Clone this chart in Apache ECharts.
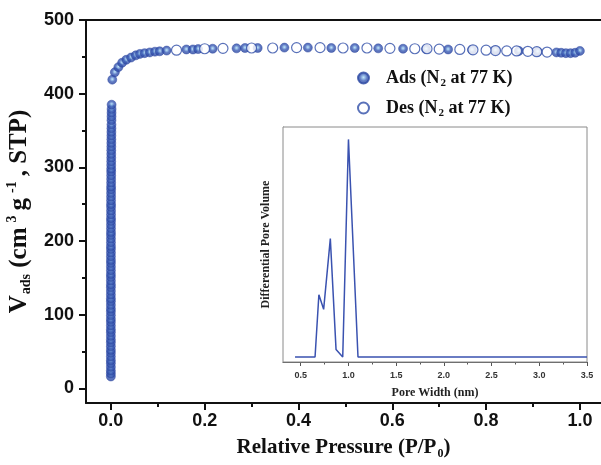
<!DOCTYPE html>
<html>
<head>
<meta charset="utf-8">
<script src="https://cdn.jsdelivr.net/npm/echarts@6/dist/echarts.min.js"></script>
<style>
  html, body { margin: 0; padding: 0; background: #fff; }
  #chart { width: 601px; height: 465px; }
</style>
</head>
<body>
<div id="chart"></div>
<script>
// N2 isotherm at 77 K, adsorption branch: micropore filling at very low P/P0
const lowP = [
  0.000001, 0.000002, 0.000003, 0.000004, 0.000005, 0.000006, 0.000007, 0.000008, 0.000009, 0.00001,
  0.000012, 0.000014, 0.000016, 0.000018, 0.00002, 0.000023, 0.000026, 0.000029, 0.000032, 0.000035,
  0.00004, 0.000045, 0.00005, 0.000055, 0.00006, 0.000066, 0.000072, 0.000078, 0.000085, 0.000092,
  0.0001, 0.00011, 0.00012, 0.00013, 0.00014, 0.00015, 0.00016, 0.00017, 0.00018, 0.00019,
  0.0002, 0.00022, 0.00024, 0.00026, 0.00028, 0.0003, 0.00032, 0.00034, 0.00036, 0.00038,
  0.0004, 0.00043, 0.00046, 0.00049, 0.00052, 0.00055, 0.00058, 0.00061, 0.00064, 0.00067,
  0.0007, 0.00074, 0.00078, 0.00082, 0.00086, 0.0009, 0.00095, 0.001, 0.00105, 0.0011,
  0.00116, 0.00122, 0.00128, 0.00134, 0.0014, 0.00147, 0.00154, 0.0016
];
const lowV = [
  16, 20, 24, 29, 34, 38, 43, 48, 52, 57,
  62, 66, 71, 76, 80, 85, 90, 94, 99, 104,
  108, 113, 118, 122, 127, 132, 137, 141, 146, 151,
  155, 160, 165, 170, 174, 179, 184, 189, 193, 198,
  203, 208, 212, 217, 222, 227, 231, 236, 241, 246,
  250, 255, 260, 265, 270, 274, 279, 284, 289, 294,
  298, 303, 308, 313, 318, 323, 328, 333, 338, 343,
  348, 353, 358, 364, 369, 374, 379, 385
];
// adsorption branch, knee and plateau
const adsP = [
  0.003, 0.0085, 0.016, 0.024, 0.033, 0.043, 0.053, 0.062, 0.072, 0.083, 0.094, 0.104, 0.119,
  0.161, 0.175, 0.186, 0.217, 0.268, 0.286, 0.313, 0.37, 0.42, 0.47, 0.52, 0.57, 0.623,
  0.672, 0.719, 0.77, 0.82, 0.87, 0.91, 0.95, 0.96, 0.97, 0.98, 0.99, 1.0
];
const adsV = [
  419, 429, 436, 442, 446, 449, 452, 454, 455, 456, 457, 457.5, 458.5,
  460, 460, 460.5, 461, 461.5, 462, 462, 462.5, 462.5, 462, 462, 461.5, 461,
  460.5, 460, 459.5, 459, 458, 457, 456, 455.5, 455, 455, 455.5, 458
];
// desorption branch
const desP = [
  0.93, 0.908, 0.889, 0.865, 0.844, 0.82, 0.8, 0.772, 0.744, 0.7, 0.674,
  0.648, 0.595, 0.546, 0.495, 0.446, 0.396, 0.345, 0.3, 0.239, 0.2, 0.14
];
const desV = [
  456.5, 457, 457.5, 458, 458, 458.5, 459, 459.5, 460, 460.5, 461,
  461, 461.5, 462, 462, 462.5, 462.5, 462, 462, 461.5, 461, 459
];
// pore size distribution (inset)
const poreW = [0.44, 0.65, 0.69, 0.74, 0.81, 0.87, 0.94, 1.0, 1.1, 3.5];
const poreDV = [0, 0, 0.286, 0.219, 0.544, 0.034, 0, 1.0, 0, 0];

const xTicks = [0, 0.2, 0.4, 0.6, 0.8, 1.0];
const xMinor = [0.1, 0.3, 0.5, 0.7, 0.9];
const yTicks = [0, 100, 200, 300, 400, 500];
const yMinor = [50, 150, 250, 350, 450];
const insetTicks = [0.5, 1.0, 1.5, 2.0, 2.5, 3.0, 3.5];
const insetMinor = [0.75, 1.25, 1.75, 2.25, 2.75, 3.25];

const BLUE = '#2f4ea8';
const SERIF = '"Liberation Serif", "Times New Roman", serif';
const SANS = '"Liberation Sans", Arial, sans-serif';

const pairs = (xs, ys) => xs.map((x, i) => [x, ys[i]]);

const chart = echarts.init(document.getElementById('chart'));

const richFor = (size, small) => ({
  t: { fontFamily: SERIF, fontWeight: 'bold', fontSize: size, color: '#111' },
  sub: { fontFamily: SERIF, fontWeight: 'bold', fontSize: small, color: '#111', padding: [small, 0, 0, 1] },
  sup: { fontFamily: SERIF, fontWeight: 'bold', fontSize: small, color: '#111', padding: [0, 5, small, 5] }
});

const dotFill = new echarts.graphic.RadialGradient(0.5, 0.45, 0.5, [
  { offset: 0, color: '#b4e2f6' },
  { offset: 0.25, color: '#7ba8de' },
  { offset: 0.55, color: '#3a5bb5' },
  { offset: 1, color: '#2a45a0' }
]);

const option = {
  backgroundColor: '#fff',
  animation: false,
  grid: [
    { left: 86, top: 20, right: 0, bottom: 62, outerBoundsMode: 'none', containLabel: false },
    { left: 283, top: 127, right: 14, bottom: 103, show: true, backgroundColor: '#fff',
      borderColor: '#8a8a8a', borderWidth: 1, z: 5, outerBoundsMode: 'none', containLabel: false }
  ],
  legend: {
    orient: 'vertical',
    left: 352,
    top: 64,
    itemWidth: 11,
    itemHeight: 11,
    itemGap: 10,
    data: ['Ads', 'Des'],
    formatter: n => '{t|' + n + ' (N}{sub|2}{t| at 77 K)}',
    textStyle: {
      padding: [0, 0, 0, 12],
      rich: {
        t: { fontFamily: SERIF, fontWeight: 'bold', fontSize: 18, color: '#111' },
        sub: { fontFamily: SERIF, fontWeight: 'bold', fontSize: 11, color: '#111', padding: [11, 0, 0, 1] }
      }
    }
  },
  xAxis: [
    {
      gridIndex: 0, type: 'value', min: -0.053, max: 1.045,
      name: '{t|Relative Pressure (P/P}{sub|0}{t|)}',
      nameLocation: 'middle', nameGap: 33,
      nameTextStyle: { rich: richFor(21, 12) },
      splitLine: { show: false },
      axisLine: { show: true, onZero: false, lineStyle: { color: '#111', width: 2 } },
      axisTick: { show: true, length: 7, customValues: xTicks, lineStyle: { color: '#111', width: 2 } },
      axisLabel: {
        customValues: xTicks, margin: 9,
        formatter: v => v.toFixed(1),
        fontFamily: SANS, fontWeight: 'bold', fontSize: 18, color: '#111'
      }
    },
    {
      gridIndex: 0, type: 'value', min: -0.053, max: 1.045, position: 'bottom',
      splitLine: { show: false },
      axisLine: { show: false, onZero: false },
      axisTick: { show: true, length: 4, customValues: xMinor, lineStyle: { color: '#111', width: 2 } },
      axisLabel: { show: false }
    },
    {
      gridIndex: 0, type: 'value', min: -0.053, max: 1.045, position: 'top',
      splitLine: { show: false },
      axisLine: { show: true, onZero: false, lineStyle: { color: '#111', width: 2 } },
      axisTick: { show: false },
      axisLabel: { show: false }
    },
    {
      gridIndex: 1, type: 'value', min: 0.314, max: 3.5,
      name: 'Pore Width (nm)', nameLocation: 'middle', nameGap: 25,
      nameTextStyle: { fontFamily: SERIF, fontWeight: 'bold', fontSize: 12, color: '#222' },
      splitLine: { show: false },
      axisLine: { show: true, onZero: false, lineStyle: { color: '#555', width: 1.2 } },
      axisTick: { show: true, length: 4, customValues: insetTicks, lineStyle: { color: '#555' } },
      axisLabel: {
        customValues: insetTicks, margin: 9,
        formatter: v => v.toFixed(1),
        fontFamily: SANS, fontWeight: 'bold', fontSize: 9, color: '#333'
      }
    },
    {
      gridIndex: 1, type: 'value', min: 0.314, max: 3.5, position: 'bottom',
      splitLine: { show: false },
      axisLine: { show: false, onZero: false },
      axisTick: { show: true, length: 2.5, customValues: insetMinor, lineStyle: { color: '#555' } },
      axisLabel: { show: false }
    }
  ],
  yAxis: [
    {
      gridIndex: 0, type: 'value', min: -20, max: 500,
      name: '{t|V}{sub|ads}{t| (cm}{sup|3}{t|g}{sup|-1}{t|, STP)}',
      nameLocation: 'middle', nameGap: 45, nameRotate: 90,
      nameTextStyle: { rich: richFor(25, 14) },
      splitLine: { show: false },
      axisLine: { show: true, onZero: false, lineStyle: { color: '#111', width: 2 } },
      axisTick: { show: true, length: 7, customValues: yTicks, lineStyle: { color: '#111', width: 2 } },
      axisLabel: {
        customValues: yTicks, margin: 12,
        fontFamily: SANS, fontWeight: 'bold', fontSize: 18, color: '#111'
      }
    },
    {
      gridIndex: 0, type: 'value', min: -20, max: 500, position: 'left',
      splitLine: { show: false },
      axisLine: { show: false, onZero: false },
      axisTick: { show: true, length: 4, customValues: yMinor, lineStyle: { color: '#111', width: 2 } },
      axisLabel: { show: false }
    },
    {
      gridIndex: 1, type: 'value', min: -0.023, max: 1.057,
      name: 'Differential Pore Volume', nameLocation: 'middle', nameGap: 11, nameRotate: 90,
      nameTextStyle: { fontFamily: SERIF, fontWeight: 'bold', fontSize: 12, color: '#222' },
      splitLine: { show: false },
      axisLine: { show: true, onZero: false, lineStyle: { color: '#8a8a8a', width: 1 } },
      axisTick: { show: false },
      axisLabel: { show: false }
    }
  ],
  series: [
    {
      name: 'Ads', type: 'scatter', xAxisIndex: 0, yAxisIndex: 0,
      data: pairs(lowP, lowV).concat(pairs(adsP, adsV)),
      symbol: 'circle', symbolSize: 9,
      itemStyle: { color: dotFill, borderColor: '#2c48a2', borderWidth: 0.6 },
      z: 2
    },
    {
      name: 'Des', type: 'scatter', xAxisIndex: 0, yAxisIndex: 0,
      data: pairs(desP, desV),
      symbol: 'circle', symbolSize: 10,
      itemStyle: { color: '#fff', borderColor: BLUE, borderWidth: 1.2 },
      z: 3
    },
    {
      name: 'PSD', type: 'line', xAxisIndex: 3, yAxisIndex: 2,
      data: pairs(poreW, poreDV),
      showSymbol: false,
      lineStyle: { color: '#3a52b0', width: 1.5 },
      z: 6
    }
  ]
};

chart.setOption(option);
</script>
</body>
</html>
